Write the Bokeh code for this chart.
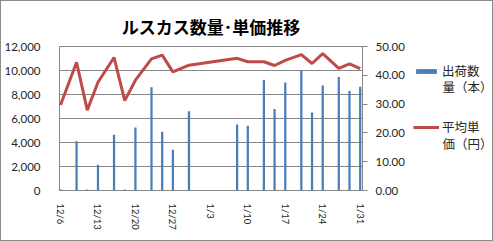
from datetime import date
from bokeh.plotting import figure
from bokeh.layouts import row
from bokeh.models import (ColumnDataSource, Range1d, LinearAxis, FixedTicker,
                          NumeralTickFormatter, Legend, LegendItem, Label)
from bokeh.embed import file_html
from bokeh.resources import INLINE

title_text = "ルスカス数量･単価推移"
dates = ["12/6", "12/9", "12/11", "12/13", "12/16", "12/18", "12/20", "12/23",
         "12/25", "12/27", "12/30", "1/8", "1/10", "1/13", "1/15", "1/17",
         "1/20", "1/22", "1/24", "1/27", "1/29", "1/31"]
qty = [80, 4100, 80, 2150, 4650, 80, 5250, 8600, 4900, 3400, 6600,
       5500, 5400, 9200, 6800, 9000, 10000, 6500, 8750, 9450, 8300, 8650]
price = [29.7, 44.5, 27.9, 37.6, 46.2, 31.2, 38.3, 45.7, 47.0, 41.2, 43.5,
         45.9, 44.7, 44.7, 43.4, 45.2, 47.2, 44.1, 47.5, 42.4, 44.0, 42.3]
tick_labels = ["12/6", "12/13", "12/20", "12/27", "1/3", "1/10", "1/17", "1/24", "1/31"]
qty_name = ["出荷数", "量（本）"]
price_name = ["平均単", "価（円）"]


def day_offset(s):
    m, d = (int(v) for v in s.split("/"))
    dt = date(2020 if m == 12 else 2021, m, d)
    return (dt - date(2020, 12, 6)).days


x = [day_offset(s) for s in dates]
tick_x = [day_offset(s) for s in tick_labels]
src = ColumnDataSource(dict(x=x, qty=qty, price=price))

num_font = "Lato"
cjk_font = "Noto Sans CJK JP"
lab_color = "#262626"
bar_color = "#4a7ebb"
line_color = "#be4b48"
H = 239

p = figure(width=410, height=H, output_backend="svg", toolbar_location=None,
           x_range=Range1d(-0.19, 56.43), y_range=Range1d(0, 12000),
           min_border_left=58, min_border_right=49, min_border_top=45,
           min_border_bottom=50, title=title_text)
p.outline_line_color = "#868686"
p.background_fill_color = "white"
p.border_fill_color = "white"
p.extra_y_ranges = {"price": Range1d(0, 50)}

p.title.align = "center"
p.title.offset = 36
p.title.standoff = 15
p.title.text_font = cjk_font
p.title.text_font_size = "17px"
p.title.text_font_style = "bold"
p.title.text_color = "#000000"

# left axis
ya = p.yaxis[0]
ya.ticker = FixedTicker(ticks=list(range(0, 12001, 2000)))
ya.formatter = NumeralTickFormatter(format="0,0")
ya.axis_line_color = None
ya.major_tick_line_color = None
ya.minor_tick_line_color = None
ya.major_label_standoff = 13
ya.major_label_text_font = num_font
ya.major_label_text_font_size = "11.5px"
ya.major_label_text_color = lab_color

# bottom axis
xa = p.xaxis[0]
xa.ticker = FixedTicker(ticks=tick_x)
xa.major_label_overrides = {t: l for t, l in zip(tick_x, tick_labels)}
xa.major_label_orientation = "vertical"
xa.axis_line_color = "#868686"
xa.major_tick_line_color = None
xa.minor_tick_line_color = None
xa.major_label_standoff = 7
xa.major_label_text_font = num_font
xa.major_label_text_font_size = "9.5px"
xa.major_label_text_color = lab_color

# right axis
ra = LinearAxis(y_range_name="price", ticker=FixedTicker(ticks=list(range(0, 51, 10))),
                formatter=NumeralTickFormatter(format="0.00"))
ra.axis_line_color = "#868686"
ra.major_tick_line_color = "#868686"
ra.major_tick_out = 5
ra.major_tick_in = 0
ra.minor_tick_line_color = None
ra.major_label_standoff = 8
ra.major_label_text_font = num_font
ra.major_label_text_font_size = "11.5px"
ra.major_label_text_color = lab_color
p.add_layout(ra, "right")

p.xgrid.grid_line_color = None
p.ygrid.grid_line_color = "#868686"
p.ygrid.ticker = FixedTicker(ticks=list(range(0, 12001, 2000)))

p.vbar(x="x", top="qty", bottom=0, width=0.42, source=src,
       fill_color=bar_color, line_color=None)
p.line(x="x", y="price", source=src, y_range_name="price",
       line_color=line_color, line_width=3)

# legend panel (separate figure so the legend is not clipped by the main frame)
q = figure(width=81, height=H, output_backend="svg", toolbar_location=None,
           x_range=Range1d(0, 1), y_range=Range1d(0, 1),
           x_axis_location=None, y_axis_location=None,
           min_border=0, min_border_left=0, min_border_right=0,
           min_border_top=0, min_border_bottom=0)
q.outline_line_color = None
q.grid.grid_line_color = None
q.background_fill_color = "white"
q.border_fill_color = "white"
lb = q.vbar(x=[5], top=[1], width=0.5, fill_color=bar_color, line_color=None)
ll = q.line(x=[5, 6], y=[0.5, 0.5], line_color=line_color, line_width=3)

legend = Legend(items=[LegendItem(label=qty_name[0], renderers=[lb]),
                       LegendItem(label=price_name[0], renderers=[ll])],
                location=(2, 54))
legend.border_line_color = None
legend.background_fill_alpha = 0
legend.padding = 0
legend.margin = 0
legend.spacing = 37
legend.glyph_width = 26
legend.glyph_height = 6
legend.label_height = 16
legend.label_standoff = 3
legend.label_text_font = cjk_font
legend.label_text_font_size = "12.5px"
legend.label_text_color = lab_color
q.add_layout(legend, "center")

for txt, yy in ((qty_name[1], 104), (price_name[1], 47.5)):
    q.add_layout(Label(x=31, y=yy, x_units="screen", y_units="screen", text=txt,
                       text_font=cjk_font, text_font_size="12.5px",
                       text_color=lab_color, text_baseline="middle"))

layout = row(p, q)
layout.styles = {"border": "1px solid #8c8c8c"}

open("out.html", "w").write(file_html(layout, INLINE))
